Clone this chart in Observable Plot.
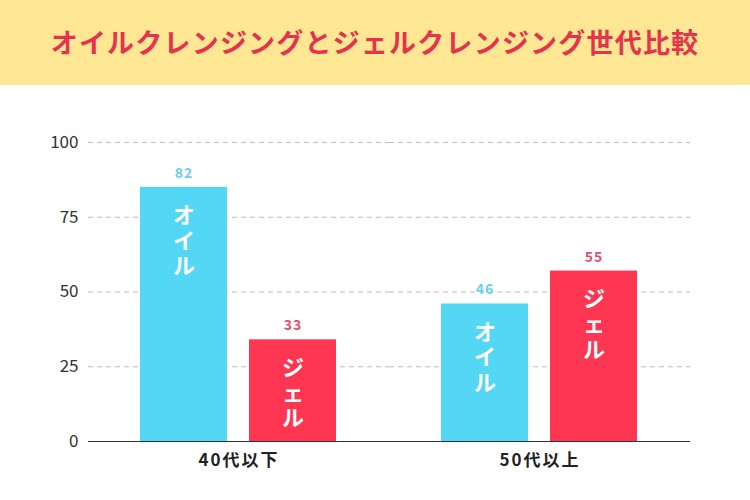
<!DOCTYPE html>
<html>
<head>
<meta charset="utf-8">
<script src="https://cdn.jsdelivr.net/npm/d3@7"></script>
<script src="https://cdn.jsdelivr.net/npm/@observablehq/plot@0.6"></script>
<style>
  html, body { margin: 0; padding: 0; background: #ffffff; }
  #wrap { width: 750px; height: 500px; overflow: hidden; background: #ffffff; }
  #header {
    height: 85px; background: #ffe794;
    display: flex; align-items: center; justify-content: center;
  }
  #title {
    font-family: "Noto Sans CJK JP", sans-serif; font-weight: 700;
    font-size: 27px; letter-spacing: 1.2px; color: #e6334d; margin-top: -2px;
  }
  #chart svg { display: block; }
</style>
</head>
<body>
<div id="wrap">
  <div id="header"><div id="title">オイルクレンジングとジェルクレンジング世代比較</div></div>
  <div id="chart"></div>
</div>
<script>
const groups = ["40代以下", "40代以下", "50代以上", "50代以上"];
const series = ["オイル", "ジェル", "オイル", "ジェル"];
// bar heights as drawn in the picture
const barValues = [85, 34, 46, 57];
// value labels printed above the bars
const valueLabels = ["82", "33", "46", "55"];
const seriesNames = ["オイル", "ジェル"];
const barColors = ["#53d7f4", "#fe3651"];
const labelColors = ["#6dcfe6", "#e0506c"];
const yTicks = [0, 25, 50, 75, 100];

const data = groups.map((g, i) => ({
  group: g,
  series: series[i],
  value: barValues[i],
  label: valueLabels[i],
  vertical: series[i].split("").join("\n")
}));

const chart = Plot.plot({
  width: 750,
  height: 415,
  marginLeft: 88,
  marginRight: 60,
  marginTop: 57,
  marginBottom: 59,
  style: {fontFamily: "'Noto Sans CJK JP', sans-serif", fontSize: "17px", color: "#333", background: "transparent"},
  fx: {padding: 0, label: null, tickSize: 0, tickPadding: 12, axis: "bottom"},
  x: {domain: seriesNames, paddingInner: 0.2, paddingOuter: 0.47, axis: null},
  y: {domain: [0, 100], ticks: yTicks, tickSize: 0, tickPadding: 10, label: null},
  color: {domain: seriesNames, range: barColors},
  marks: [
    Plot.ruleY(yTicks.filter(d => d > 0), {stroke: "#bdbdbd", strokeDasharray: "5,4"}),
    Plot.barY(data, {fx: "group", x: "series", y: "value", fill: "series"}),
    Plot.ruleY([0], {stroke: "#333", strokeWidth: 1.2}),
    Plot.text(data.filter(d => d.series === seriesNames[0]), {fx: "group", x: "series", y: "value", text: "label", dy: -14, fill: labelColors[0], fontSize: 14, fontWeight: 700}),
    Plot.text(data.filter(d => d.series === seriesNames[1]), {fx: "group", x: "series", y: "value", text: "label", dy: -14, fill: labelColors[1], fontSize: 14, fontWeight: 700}),
    Plot.text(data, {fx: "group", x: "series", y: "value", text: "vertical", lineAnchor: "top", dy: 18, fill: "white", fontSize: 22, fontWeight: "bold", lineHeight: 1.15})
  ]
});
chart.querySelectorAll("text").forEach(t => {
  const v = t.textContent;
  if (valueLabels.includes(v)) t.style.letterSpacing = "1px";
});
chart.querySelectorAll("g[aria-label='fx-axis tick label'] text, g[aria-label='fx-axis'] text").forEach(t => {
  t.style.fontWeight = "700"; t.style.fill = "#222"; t.style.letterSpacing = "2px";
});
document.getElementById("chart").appendChild(chart);
</script>
</body>
</html>
